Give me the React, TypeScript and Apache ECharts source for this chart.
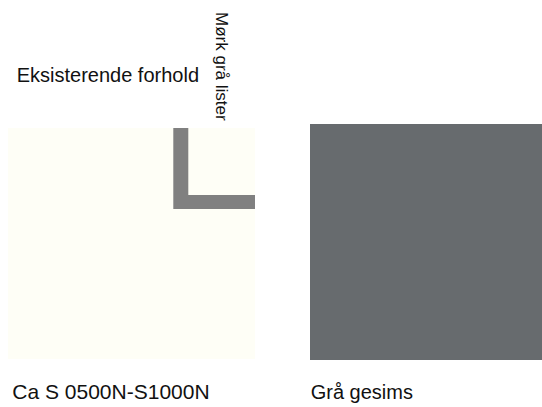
import React, { useEffect, useRef } from "react";
import * as echarts from "echarts";

const swatchNames = ["Ca S 0500N-S1000N", "Grå gesims"];
const swatchColors = ["#FEFEF6", "#676B6E"];
const headerLabel = "Eksisterende forhold";
const trimLabel = "Mørk grå lister";
const trimColor = "#808080";

const FONT = "'Liberation Sans', Arial, sans-serif";

export default function App() {
  const ref = useRef<HTMLDivElement>(null);
  useEffect(() => {
    if (!ref.current) return;
    const chart = echarts.init(ref.current, null, { renderer: "svg" });
    // swatch boxes: [x, y, w, h]
    const boxes = [
      [8, 128, 247, 231],
      [310, 124, 232, 236],
    ];
    const labelX = [12.3, 310.7];
    const labelSize = [21, 20];
    const elements: any[] = [];
    swatchColors.forEach((c, i) => {
      const [x, y, w, h] = boxes[i];
      elements.push({
        type: "rect",
        shape: { x, y, width: w, height: h },
        style: { fill: c },
      });
      elements.push({
        type: "text",
        x: labelX[i],
        y: 391.5,
        style: {
          text: swatchNames[i],
          font: `${labelSize[i]}px ${FONT}`,
          fill: "#111",
          align: "left",
          verticalAlign: "middle",
        },
      });
    });
    // L-shaped trim
    elements.push({
      type: "polygon",
      shape: {
        points: [
          [173.3, 128],
          [188.3, 128],
          [188.3, 195],
          [255, 195],
          [255, 209],
          [173.3, 209],
        ],
      },
      style: { fill: trimColor },
    });
    elements.push({
      type: "text",
      x: 16.7,
      y: 75,
      style: {
        text: headerLabel,
        font: `20px ${FONT}`,
        fill: "#111",
        align: "left",
        verticalAlign: "middle",
      },
    });
    elements.push({
      type: "text",
      x: 221,
      y: 12,
      rotation: -Math.PI / 2,
      style: {
        text: trimLabel,
        font: `17px ${FONT}`,
        fill: "#111",
        align: "left",
        verticalAlign: "middle",
      },
    });
    chart.setOption({
      animation: false,
      backgroundColor: "#ffffff",
      graphic: { elements },
    });
    return () => chart.dispose();
  }, []);
  return (
    <div
      ref={ref}
      style={{ position: "fixed", left: 0, top: 0, width: 542, height: 407 }}
    />
  );
}
